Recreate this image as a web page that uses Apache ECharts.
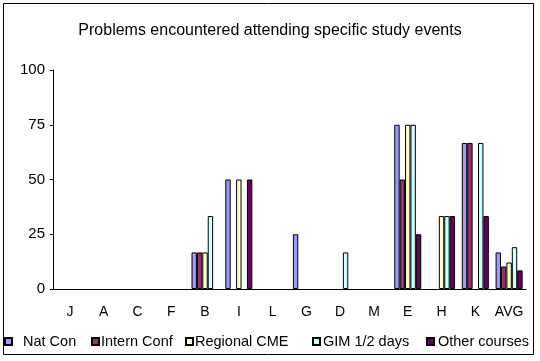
<!DOCTYPE html>
<html><head><meta charset="utf-8">
<script src="https://cdn.jsdelivr.net/npm/echarts@6/dist/echarts.min.js"></script>
<style>html,body{margin:0;padding:0;background:#fff}#c{width:540px;height:361px}</style>
</head><body><div id="c"></div>
<script>
var categories = ['J','A','C','F','B','I','L','G','D','M','E','H','K','AVG'];
var natCon      = [0,0,0,0,16.7,50,0,25,0,0,75,0,66.7,16.7];
var internConf  = [0,0,0,0,16.7,0,0,0,0,0,50,0,66.7,10.3];
var regionalCME = [0,0,0,0,16.7,50,0,0,0,0,75,33.3,0,12.1];
var gimHalfDays = [0,0,0,0,33.3,0,0,0,16.7,0,75,33.3,66.7,19.1];
var otherCourses= [0,0,0,0,0,50,0,0,0,0,25,33.3,33.3,8.5];
var yTicks = [0,25,50,75,100];
var seriesNames = ['Nat Con','Intern Conf','Regional CME','GIM 1/2 days','Other courses'];
var seriesColors = ['#9999FF','#993366','#FFFFCC','#CCFFFF','#660066'];
var seriesData = [natCon, internConf, regionalCME, gimHalfDays, otherCourses];

var font = 'Liberation Sans, Arial, sans-serif';
var legendLeft = [4, 91, 185, 312, 426];
var legendPad = [6, -3, -3, -2, -1];
var chart = echarts.init(document.getElementById('c'), null, {renderer:'canvas'});
chart.setOption({
  animation:false,
  backgroundColor:'#fff',
  title:{text:'Problems encountered attending specific study events', left:'center', top:18,
    textStyle:{fontFamily:font, fontSize:16, fontWeight:'normal', color:'#000'}},
  grid:{left:53, right:14, top:70, bottom:72, containLabel:false},
  legend: seriesNames.map(function(n,i){
    return {top:334, left:legendLeft[i], padding:0, itemWidth:7, itemHeight:7, icon:'rect',
      textStyle:{fontFamily:font, fontSize:14.5, color:'#000', padding:[0,0,0,legendPad[i]]},
      data:[n]};
  }),
  xAxis:{type:'category', data:categories, z:5,
    axisLine:{lineStyle:{color:'#000', width:1}}, axisTick:{show:false},
    axisLabel:{color:'#000', fontFamily:font, fontSize:14, margin:16, interval:0}},
  yAxis:{type:'value', min:0, max:100, interval:25,
    axisLine:{show:true, lineStyle:{color:'#000'}},
    axisTick:{show:true, length:3, lineStyle:{color:'#000'}},
    splitLine:{show:false},
    axisLabel:{color:'#000', fontFamily:font, fontSize:15, margin:8}},
  graphic:[{type:'rect', shape:{x:3.5, y:3.5, width:530, height:351}, style:{fill:'none', stroke:'#000', lineWidth:1}, silent:true}],
  series: seriesData.map(function(d,i){
    return {name:seriesNames[i], type:'bar',
      data:d.map(function(v){ return v === 0 ? '-' : v; }),
      barGap:'0%', barCategoryGap:'20%',
      itemStyle:{color:seriesColors[i], borderColor:'#000', borderWidth:1}};
  })
});
</script></body></html>
